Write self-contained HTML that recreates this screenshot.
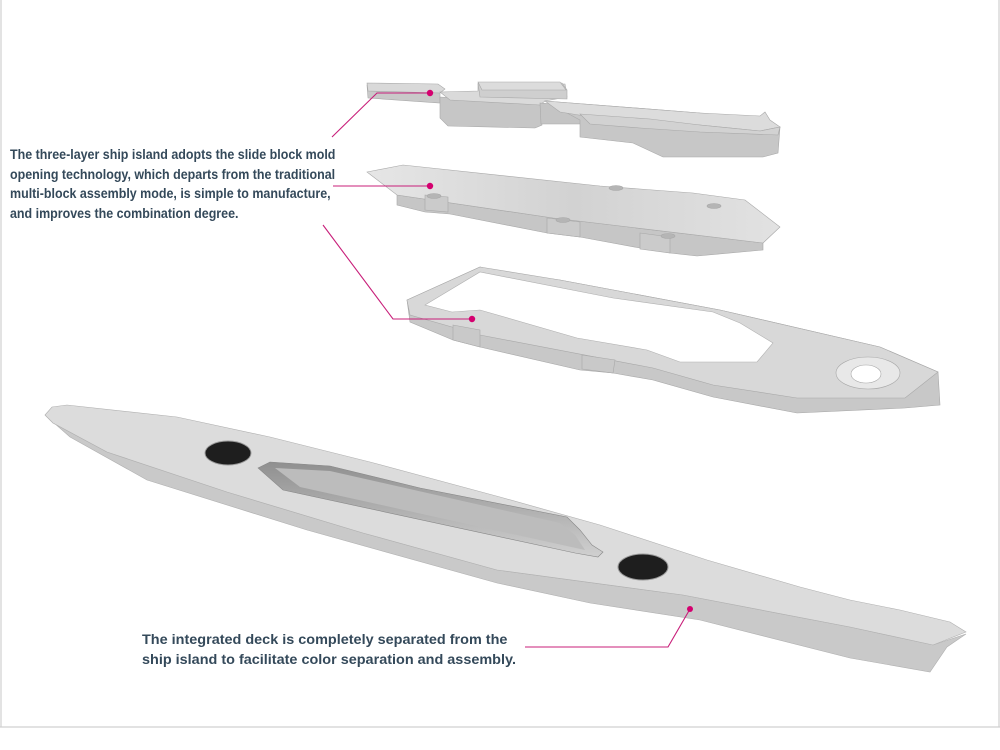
<!DOCTYPE html>
<html><head><meta charset="utf-8"><style>
html,body{margin:0;padding:0;background:#fff}
.w{position:relative;width:1000px;height:750px;overflow:hidden;background:#fff}
.t{position:absolute;font-family:"Liberation Sans",sans-serif;font-weight:bold;color:#34495a;font-size:14px;line-height:19.5px;white-space:nowrap;transform-origin:0 0}
</style></head><body><div class="w">
<svg width="1000" height="750" style="position:absolute;left:0;top:0">
<defs>
<linearGradient id="g2" x1="0" y1="0" x2="0" y2="1"><stop offset="0" stop-color="#8f8f8f"/><stop offset="1" stop-color="#d0d0d0"/></linearGradient>
<linearGradient id="gm" x1="0" y1="0" x2="1" y2="0"><stop offset="0" stop-color="#e6e6e6"/><stop offset="0.5" stop-color="#d2d2d2"/><stop offset="1" stop-color="#e2e2e2"/></linearGradient>
</defs>
<g stroke="#d0d0d0" stroke-width="1.2" fill="none"><line x1="1" y1="0" x2="1" y2="727"/><line x1="999" y1="0" x2="999" y2="727"/><line x1="0" y1="727" x2="1000" y2="727"/></g>
<!-- top layer -->
<g stroke="#a8a8a8" stroke-width="0.6">
<polygon points="367,85 440,87 440,103 368,98" fill="#c9c9c9"/>
<polygon points="367,83 438,84 445,89 440,93 368,91" fill="#d9d9d9"/>
<polygon points="440,97 540,103 542,125 535,128 448,126 440,118" fill="#c6c6c6"/>
<polygon points="440,92 478,91 478,84 565,84 567,97 545,101 540,105 450,100" fill="#dadada"/>
<polygon points="478,83 562,83 567,90 567,99 480,97" fill="#cfcfcf"/>
<polygon points="478,82 560,82 566,90 482,90" fill="#dcdcdc"/>
<polygon points="540,103 585,106 585,124 541,124" fill="#c4c4c4"/>
<polygon points="545,101 700,113 760,118 780,127 778,153 763,157 663,157 633,143 580,137 580,120" fill="#c7c7c7"/>
<polygon points="545,101 700,113 760,116 765,112 770,120 780,127 760,131 700,125 650,121 585,116 560,112" fill="#dcdcdc"/>
<polygon points="580,114 650,119 700,125 760,131 780,127 778,135 700,132 640,128 590,124" fill="#d2d2d2"/>
</g>
<!-- middle layer -->
<g stroke="#a8a8a8" stroke-width="0.6">
<polygon points="397,195 553,218 763,243 763,250 697,256 670,253 640,248 580,237 547,233 450,214 425,212 397,205" fill="#c6c6c6"/>
<polygon points="367,172 403,165 600,186 693,193 745,200 780,227 763,243 553,218 397,195" fill="url(#gm)"/>
<polygon points="425,195 448,197 448,212 425,210" fill="#cbcbcb"/>
<polygon points="547,218 580,222 580,237 547,233" fill="#cbcbcb"/>
<polygon points="640,233 670,237 670,253 640,249" fill="#cbcbcb"/>
<ellipse cx="434" cy="196" rx="7" ry="2.5" fill="#b5b5b5"/>
<ellipse cx="563" cy="220" rx="7" ry="2.5" fill="#b5b5b5"/>
<ellipse cx="616" cy="188" rx="7" ry="2.5" fill="#b5b5b5"/>
<ellipse cx="714" cy="206" rx="7" ry="2.5" fill="#b5b5b5"/>
<ellipse cx="668" cy="236" rx="7" ry="2.5" fill="#b5b5b5"/>
</g>
<!-- frame layer -->
<g stroke="#a8a8a8" stroke-width="0.6">
<polygon points="407,300 480,267 500,272 560,280 720,310 880,347 938,372 940,405 905,408 797,413 713,397 653,380 613,373 580,370 480,347 453,340 410,322" fill="#c8c8c8"/>
<polygon points="407,300 480,267 560,280 720,310 880,347 938,372 905,398 797,398 713,385 653,368 480,335 410,315" fill="#d8d8d8"/>
<polygon points="425,305 480,272 613,298 713,312 740,323 773,343 757,362 680,362 647,350 577,338 480,310 452,312" fill="#fff" stroke="#b0b0b0"/>
<polygon points="453,325 480,330 480,347 453,340" fill="#c9c9c9"/>
<polygon points="582,355 615,360 613,373 582,369" fill="#c9c9c9"/>
<ellipse cx="868" cy="373" rx="32" ry="16" fill="#e8e8e8"/>
<ellipse cx="866" cy="374" rx="15" ry="9" fill="#fff"/>
</g>
<!-- hull -->
<polygon points="45,415 53,423 107,452 227,492 363,533 497,570 683,595 850,627 933,645 966,634 947,647 930,672 850,658 700,620 590,603 497,583 307,530 147,480 70,437" fill="#c9c9c9" stroke="#b0b0b0" stroke-width="0.6"/>
<polygon points="45,415 52,407 67,405 177,417 270,437 370,462 500,497 600,525 707,560 800,587 850,600 900,610 950,622 966,632 933,645 850,627 683,595 497,570 363,533 227,492 107,452 53,423" fill="#dcdcdc" stroke="#b0b0b0" stroke-width="0.6"/>
<polygon points="258,468 270,462 330,466 420,488 567,517 580,530 592,545 603,552 598,557 575,553 283,490" fill="url(#g2)" stroke="#888" stroke-width="0.6"/>
<polygon points="275,468 330,471 560,523 575,535 585,550 300,487" fill="#bcbcbc"/>
<ellipse cx="228" cy="453" rx="23" ry="12" fill="#1e1e1e" stroke="#999"/>
<ellipse cx="643" cy="567" rx="25" ry="13" fill="#1e1e1e" stroke="#999"/>
<!-- connectors -->
<g stroke="#c81f7a" stroke-width="1.1" fill="none">
<polyline points="332,137 377,93 430,93"/>
<polyline points="333,186 430,186"/>
<polyline points="323,225 393,319 472,319"/>
<polyline points="525,647 668,647 690,609"/>
</g>
<g fill="#d4006f"><circle cx="430" cy="93" r="3.2"/><circle cx="430" cy="186" r="3.2"/><circle cx="472" cy="319" r="3.2"/><circle cx="690" cy="609" r="3"/></g>
</svg>
<div class="t" style="left:10px;top:145px;transform:scaleX(0.89)">The three-layer ship island adopts the slide block mold<br>opening technology, which departs from the traditional<br>multi-block assembly mode, is simple to manufacture,<br>and improves the combination degree.</div>
<div class="t" style="left:142px;top:630px;transform:scaleX(1.03)">The integrated deck is completely separated from the<br>ship island to facilitate color separation and assembly.</div>
</div></body></html>
